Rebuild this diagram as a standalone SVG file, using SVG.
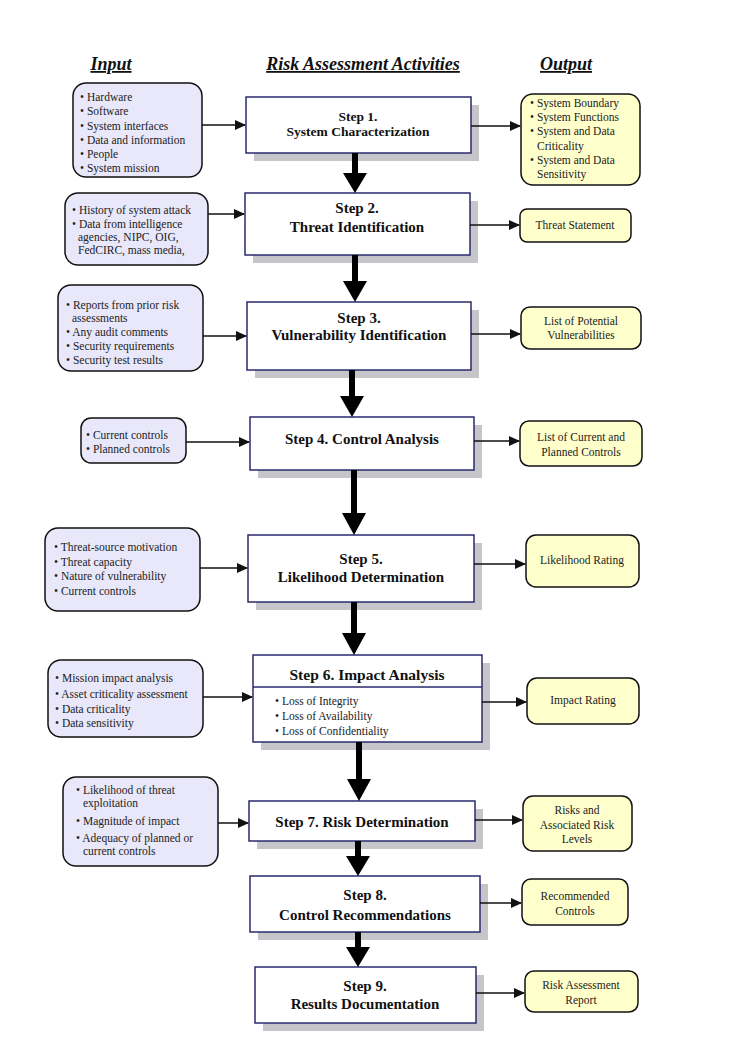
<svg xmlns="http://www.w3.org/2000/svg" width="749" height="1049" viewBox="0 0 749 1049">
<style>
.hdr{font-family:"Liberation Serif",serif;font-weight:bold;font-style:italic;font-size:18px;text-decoration:underline;fill:#111}
.in{fill:#e8e8fa;stroke:#111;stroke-width:1.5}
.out{fill:#ffffcc;stroke:#111;stroke-width:1.5}
.step{fill:#fff;stroke:#2a2a6e;stroke-width:1.5}
.sh{fill:#c6c6ca}
.t{font-family:"Liberation Serif",serif;font-size:11.5px;fill:#222}
.st{font-family:"Liberation Serif",serif;font-size:15px;font-weight:bold;fill:#111;text-anchor:middle}
.c{text-anchor:middle}
.thin{stroke:#111;stroke-width:1.5;fill:none}
.thick{stroke:#000;stroke-width:6;fill:none}
</style>
<defs>
<marker id="ah" markerWidth="11" markerHeight="10" refX="10" refY="5" orient="auto" markerUnits="userSpaceOnUse">
<path d="M0,0 L11,5 L0,10 Z" fill="#111"/>
</marker>
</defs>
<rect width="749" height="1049" fill="#fff"/>
<g id="headers">
<text class="hdr" x="111" y="70" text-anchor="middle">Input</text>
<text class="hdr" x="363" y="70" text-anchor="middle">Risk Assessment Activities</text>
<text class="hdr" x="566" y="70" text-anchor="middle">Output</text>
</g>

<g id="step1">
<rect class="sh" x="254" y="105" width="225" height="56"/>
<rect class="step" x="246" y="97" width="225" height="56"/>
<text class="st" x="358" y="121" style="font-size:13.5px">Step 1.</text>
<text class="st" x="358" y="136" style="font-size:13.5px">System Characterization</text>
</g>
<g id="step2">
<rect class="sh" x="253" y="201" width="225" height="62"/>
<rect class="step" x="245" y="193" width="225" height="62"/>
<text class="st" x="357" y="213">Step 2.</text>
<text class="st" x="357" y="232">Threat Identification</text>
</g>
<g id="step3">
<rect class="sh" x="255" y="310" width="224" height="68"/>
<rect class="step" x="247" y="302" width="224" height="68"/>
<text class="st" x="359" y="323">Step 3.</text>
<text class="st" x="359" y="340">Vulnerability Identification</text>
</g>
<g id="step4">
<rect class="sh" x="258" y="425" width="224" height="53"/>
<rect class="step" x="250" y="417" width="224" height="53"/>
<text class="st" x="362" y="444">Step 4.  Control Analysis</text>
</g>
<g id="step5">
<rect class="sh" x="256" y="543" width="226" height="67"/>
<rect class="step" x="248" y="535" width="226" height="67"/>
<text class="st" x="361" y="564">Step 5.</text>
<text class="st" x="361" y="582">Likelihood Determination</text>
</g>
<g id="step6">
<rect class="sh" x="261" y="663" width="229" height="87"/>
<rect class="step" x="253" y="655" width="229" height="87"/>
<line x1="253" y1="687" x2="482" y2="687" stroke="#2a2a6e" stroke-width="1.5"/>
<text class="st" x="367" y="680" style="font-size:15.5px">Step 6.  Impact Analysis</text>
<text class="t" x="275" y="705">• Loss of Integrity</text>
<text class="t" x="275" y="720">• Loss of Availability</text>
<text class="t" x="275" y="735">• Loss of Confidentiality</text>
</g>
<g id="step7">
<rect class="sh" x="257" y="809" width="226" height="40"/>
<rect class="step" x="249" y="801" width="226" height="40"/>
<text class="st" x="362" y="827">Step 7.  Risk Determination</text>
</g>
<g id="step8">
<rect class="sh" x="258" y="884" width="230" height="56"/>
<rect class="step" x="250" y="876" width="230" height="56"/>
<text class="st" x="365" y="900">Step 8.</text>
<text class="st" x="365" y="920">Control Recommendations</text>
</g>
<g id="step9">
<rect class="sh" x="263" y="975" width="221" height="56"/>
<rect class="step" x="255" y="967" width="221" height="56"/>
<text class="st" x="365" y="991">Step 9.</text>
<text class="st" x="365" y="1009">Results Documentation</text>
</g>

<g id="input1">
<rect class="in" x="73" y="83" width="129" height="94" rx="13"/>
<text class="t" x="80" y="101">• Hardware</text>
<text class="t" x="80" y="115">• Software</text>
<text class="t" x="80" y="130">• System interfaces</text>
<text class="t" x="80" y="144">• Data and information</text>
<text class="t" x="80" y="158">• People</text>
<text class="t" x="80" y="172">• System mission</text>
</g>
<g id="input2">
<rect class="in" x="65" y="193" width="143" height="72" rx="13"/>
<text class="t" x="72" y="214">• History of system attack</text>
<text class="t" x="72" y="228">• Data from intelligence</text>
<text class="t" x="78" y="241">agencies, NIPC, OIG,</text>
<text class="t" x="78" y="254">FedCIRC, mass media,</text>
</g>
<g id="input3">
<rect class="in" x="58" y="285" width="145" height="86" rx="13"/>
<text class="t" x="66" y="309">• Reports from prior risk</text>
<text class="t" x="72" y="322">assessments</text>
<text class="t" x="66" y="336">• Any audit comments</text>
<text class="t" x="66" y="350">• Security requirements</text>
<text class="t" x="66" y="364">• Security test results</text>
</g>
<g id="input4">
<rect class="in" x="81" y="418" width="105" height="45" rx="10"/>
<text class="t" x="86" y="439">• Current controls</text>
<text class="t" x="86" y="453">• Planned controls</text>
</g>
<g id="input5">
<rect class="in" x="45" y="528" width="155" height="83" rx="13"/>
<text class="t" x="54" y="551">• Threat-source motivation</text>
<text class="t" x="54" y="566">• Threat capacity</text>
<text class="t" x="54" y="580">• Nature of vulnerability</text>
<text class="t" x="54" y="595">• Current controls</text>
</g>
<g id="input6">
<rect class="in" x="48" y="660" width="155" height="77" rx="13"/>
<text class="t" x="55" y="682">• Mission impact analysis</text>
<text class="t" x="55" y="698">• Asset criticality assessment</text>
<text class="t" x="55" y="713">• Data criticality</text>
<text class="t" x="55" y="727">• Data sensitivity</text>
</g>
<g id="input7">
<rect class="in" x="63" y="777" width="155" height="89" rx="13"/>
<text class="t" x="76" y="794">• Likelihood of threat</text>
<text class="t" x="83" y="807">exploitation</text>
<text class="t" x="76" y="825">• Magnitude of impact</text>
<text class="t" x="76" y="842">• Adequacy of planned or</text>
<text class="t" x="83" y="855">current controls</text>
</g>

<g id="output1">
<rect class="out" x="521" y="94" width="119" height="91" rx="12"/>
<text class="t" x="530" y="107">• System Boundary</text>
<text class="t" x="530" y="121">• System Functions</text>
<text class="t" x="530" y="135">• System and Data</text>
<text class="t" x="537" y="150">Criticality</text>
<text class="t" x="530" y="164">• System and Data</text>
<text class="t" x="537" y="178">Sensitivity</text>
</g>
<g id="output2">
<rect class="out" x="520" y="209" width="111" height="33" rx="7"/>
<text class="t c" x="575" y="229">Threat Statement</text>
</g>
<g id="output3">
<rect class="out" x="521" y="307" width="120" height="42" rx="9"/>
<text class="t c" x="581" y="325">List of Potential</text>
<text class="t c" x="581" y="339">Vulnerabilities</text>
</g>
<g id="output4">
<rect class="out" x="520" y="421" width="122" height="45" rx="9"/>
<text class="t c" x="581" y="441">List of Current and</text>
<text class="t c" x="581" y="456">Planned Controls</text>
</g>
<g id="output5">
<rect class="out" x="526" y="535" width="113" height="52" rx="10"/>
<text class="t c" x="582" y="564">Likelihood Rating</text>
</g>
<g id="output6">
<rect class="out" x="527" y="678" width="112" height="46" rx="10"/>
<text class="t c" x="583" y="704">Impact Rating</text>
</g>
<g id="output7">
<rect class="out" x="523" y="796" width="109" height="55" rx="10"/>
<text class="t c" x="577" y="814">Risks and</text>
<text class="t c" x="577" y="829">Associated Risk</text>
<text class="t c" x="577" y="843">Levels</text>
</g>
<g id="output8">
<rect class="out" x="522" y="879" width="106" height="46" rx="9"/>
<text class="t c" x="575" y="900">Recommended</text>
<text class="t c" x="575" y="915">Controls</text>
</g>
<g id="output9">
<rect class="out" x="525" y="971" width="113" height="41" rx="9"/>
<text class="t c" x="581" y="989">Risk Assessment</text>
<text class="t c" x="581" y="1004">Report</text>
</g>

<g id="connectors">
<line class="thin" x1="202" y1="125" x2="245" y2="125" marker-end="url(#ah)"/>
<line class="thin" x1="471" y1="126" x2="520" y2="126" marker-end="url(#ah)"/>
<line class="thin" x1="208" y1="214" x2="244" y2="214" marker-end="url(#ah)"/>
<line class="thin" x1="470" y1="225" x2="519" y2="225" marker-end="url(#ah)"/>
<line class="thin" x1="203" y1="336" x2="246" y2="336" marker-end="url(#ah)"/>
<line class="thin" x1="471" y1="334" x2="520" y2="334" marker-end="url(#ah)"/>
<line class="thin" x1="186" y1="442" x2="249" y2="442" marker-end="url(#ah)"/>
<line class="thin" x1="474" y1="441" x2="519" y2="441" marker-end="url(#ah)"/>
<line class="thin" x1="200" y1="568" x2="247" y2="568" marker-end="url(#ah)"/>
<line class="thin" x1="474" y1="564" x2="525" y2="564" marker-end="url(#ah)"/>
<line class="thin" x1="203" y1="697" x2="252" y2="697" marker-end="url(#ah)"/>
<line class="thin" x1="482" y1="702" x2="526" y2="702" marker-end="url(#ah)"/>
<line class="thin" x1="218" y1="823" x2="248" y2="823" marker-end="url(#ah)"/>
<line class="thin" x1="475" y1="820" x2="522" y2="820" marker-end="url(#ah)"/>
<line class="thin" x1="480" y1="903" x2="521" y2="903" marker-end="url(#ah)"/>
<line class="thin" x1="476" y1="993" x2="524" y2="993" marker-end="url(#ah)"/>
<path class="thick" d="M355,153 V174"/><path d="M343,173 L367,173 L355,193 Z" fill="#000"/>
<path class="thick" d="M355,255 V282"/><path d="M343,281 L367,281 L355,302 Z" fill="#000"/>
<path class="thick" d="M352,370 V397"/><path d="M340,396 L364,396 L352,417 Z" fill="#000"/>
<path class="thick" d="M354,470 V514"/><path d="M342,513 L366,513 L354,535 Z" fill="#000"/>
<path class="thick" d="M354,602 V634"/><path d="M342,633 L366,633 L354,655 Z" fill="#000"/>
<path class="thick" d="M359,742 V780"/><path d="M347,779 L371,779 L359,801 Z" fill="#000"/>
<path class="thick" d="M358,841 V857"/><path d="M346,856 L370,856 L358,876 Z" fill="#000"/>
<path class="thick" d="M358,932 V948"/><path d="M346,947 L370,947 L358,967 Z" fill="#000"/>
</g>
</svg>
